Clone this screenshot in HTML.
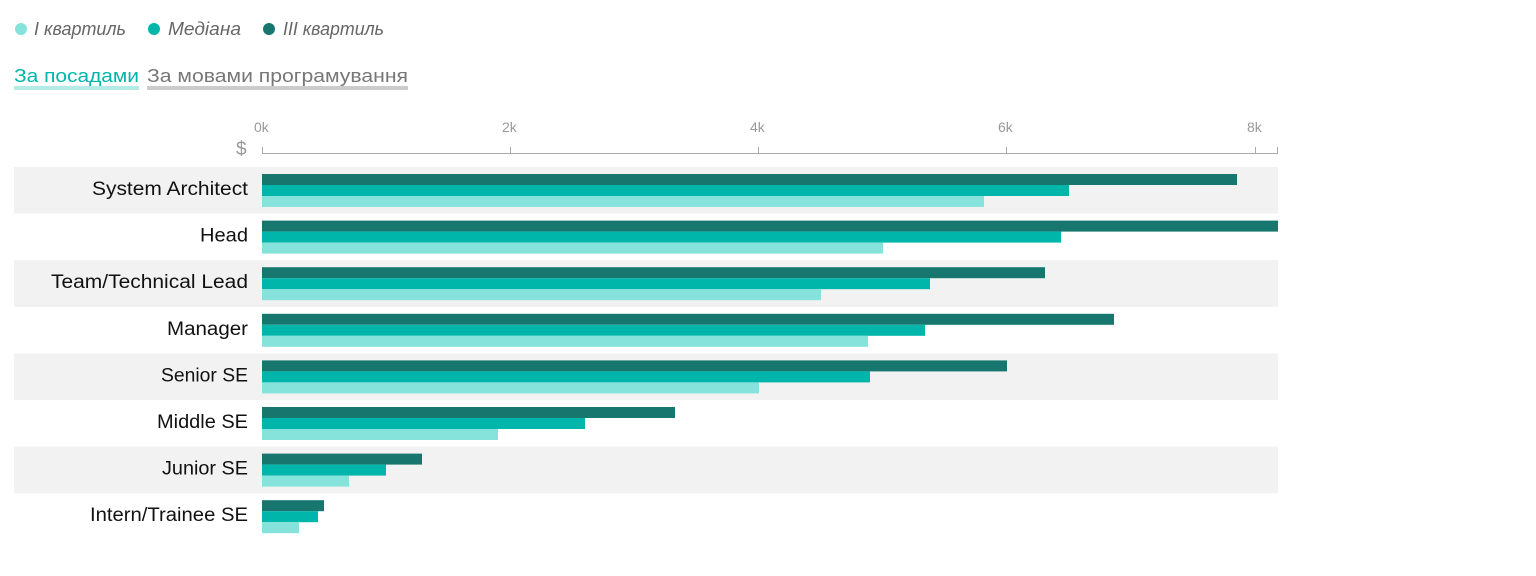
<!DOCTYPE html>
<html><head><meta charset="utf-8"><style>
body{margin:0;background:#fff;width:1536px;height:571px;overflow:hidden;font-family:"Liberation Sans",sans-serif}
</style></head><body>
<svg width="1536" height="571" xmlns="http://www.w3.org/2000/svg" font-family="Liberation Sans, sans-serif">
<circle cx="21" cy="29" r="6" fill="#86e3dc"/><text x="34" y="35" font-size="18" font-style="italic" fill="#666" textLength="92" lengthAdjust="spacingAndGlyphs">І квартиль</text>
<circle cx="154" cy="29" r="6" fill="#00b5aa"/><text x="168" y="35" font-size="18" font-style="italic" fill="#666" textLength="73" lengthAdjust="spacingAndGlyphs">Медіана</text>
<circle cx="269" cy="29" r="6" fill="#17776f"/><text x="283" y="35" font-size="18" font-style="italic" fill="#666" textLength="101" lengthAdjust="spacingAndGlyphs">ІІІ квартиль</text>
<text x="14" y="82" font-size="18" fill="#00b5aa" textLength="125" lengthAdjust="spacingAndGlyphs">За посадами</text>
<rect x="14" y="86" width="125" height="4" fill="#b5ebe7"/>
<text x="147" y="82" font-size="18" fill="#777" textLength="261" lengthAdjust="spacingAndGlyphs">За мовами програмування</text>
<rect x="147" y="86" width="261" height="4" fill="#ccc"/>
<g font-size="14" fill="#999">
<text x="254" y="132">0k</text><text x="502" y="132">2k</text><text x="750" y="132">4k</text><text x="998" y="132">6k</text><text x="1247" y="132">8k</text>
<text x="236" y="155" font-size="19">$</text>
</g>
<g stroke="#aaa" stroke-width="1">
<line x1="262" y1="153.5" x2="1278" y2="153.5"/>
<line x1="262.5" y1="147" x2="262.5" y2="154"/><line x1="510.5" y1="147" x2="510.5" y2="154"/><line x1="758.5" y1="147" x2="758.5" y2="154"/><line x1="1006.5" y1="147" x2="1006.5" y2="154"/><line x1="1255.5" y1="147" x2="1255.5" y2="154"/><line x1="1277.5" y1="147" x2="1277.5" y2="154"/>
</g>
<g fill="#f2f2f2">
<rect x="14" y="167" width="1264" height="46.6"/>
<rect x="14" y="260.2" width="1264" height="46.6"/>
<rect x="14" y="353.4" width="1264" height="46.6"/>
<rect x="14" y="446.6" width="1264" height="46.6"/>
</g>
<g font-size="19" fill="#111" text-anchor="end">
<text x="248" y="195" textLength="156" lengthAdjust="spacingAndGlyphs">System Architect</text>
<text x="248" y="241.6" textLength="48" lengthAdjust="spacingAndGlyphs">Head</text>
<text x="248" y="288.2" textLength="197" lengthAdjust="spacingAndGlyphs">Team/Technical Lead</text>
<text x="248" y="334.8" textLength="81" lengthAdjust="spacingAndGlyphs">Manager</text>
<text x="248" y="381.4" textLength="87" lengthAdjust="spacingAndGlyphs">Senior SE</text>
<text x="248" y="428" textLength="91" lengthAdjust="spacingAndGlyphs">Middle SE</text>
<text x="248" y="474.6" textLength="86" lengthAdjust="spacingAndGlyphs">Junior SE</text>
<text x="248" y="521.2" textLength="158" lengthAdjust="spacingAndGlyphs">Intern/Trainee SE</text>
</g>
<g>
<rect x="262" y="174" width="975" height="11" fill="#17776f"/><rect x="262" y="185" width="807" height="11" fill="#00b5aa"/><rect x="262" y="196" width="722" height="11" fill="#86e3dc"/>
<rect x="262" y="220.6" width="1016" height="11" fill="#17776f"/><rect x="262" y="231.6" width="799" height="11" fill="#00b5aa"/><rect x="262" y="242.6" width="621" height="11" fill="#86e3dc"/>
<rect x="262" y="267.2" width="783" height="11" fill="#17776f"/><rect x="262" y="278.2" width="668" height="11" fill="#00b5aa"/><rect x="262" y="289.2" width="559" height="11" fill="#86e3dc"/>
<rect x="262" y="313.8" width="852" height="11" fill="#17776f"/><rect x="262" y="324.8" width="663" height="11" fill="#00b5aa"/><rect x="262" y="335.8" width="606" height="11" fill="#86e3dc"/>
<rect x="262" y="360.4" width="745" height="11" fill="#17776f"/><rect x="262" y="371.4" width="608" height="11" fill="#00b5aa"/><rect x="262" y="382.4" width="497" height="11" fill="#86e3dc"/>
<rect x="262" y="407" width="413" height="11" fill="#17776f"/><rect x="262" y="418" width="323" height="11" fill="#00b5aa"/><rect x="262" y="429" width="236" height="11" fill="#86e3dc"/>
<rect x="262" y="453.6" width="160" height="11" fill="#17776f"/><rect x="262" y="464.6" width="124" height="11" fill="#00b5aa"/><rect x="262" y="475.6" width="87" height="11" fill="#86e3dc"/>
<rect x="262" y="500.2" width="62" height="11" fill="#17776f"/><rect x="262" y="511.2" width="56" height="11" fill="#00b5aa"/><rect x="262" y="522.2" width="37" height="11" fill="#86e3dc"/>
</g>
</svg>
</body></html>
